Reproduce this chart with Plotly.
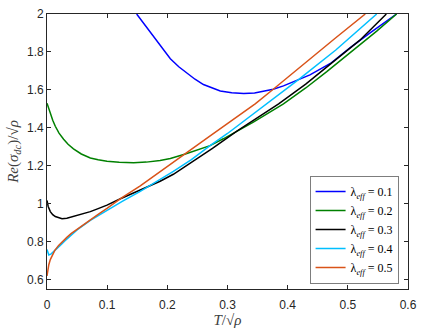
import plotly.graph_objects as go

# values
lam_names = ["0.1", "0.2", "0.3", "0.4", "0.5"]

t_01 = [0.149, 0.163, 0.177, 0.19, 0.205, 0.219, 0.233, 0.246, 0.26, 0.274, 0.288,
        0.307, 0.327, 0.345, 0.36, 0.376, 0.393, 0.41, 0.437, 0.471, 0.504, 0.537, 0.56, 0.581]
s_01 = [2.0, 1.94, 1.883, 1.823, 1.764, 1.722, 1.688, 1.656, 1.628, 1.609, 1.594,
        1.585, 1.581, 1.583, 1.591, 1.603, 1.621, 1.642, 1.679, 1.739, 1.823, 1.90, 1.95, 2.0]

t_02 = [0, 0.003, 0.0055, 0.0095, 0.0138, 0.02, 0.0276, 0.035, 0.044, 0.057, 0.072, 0.085,
        0.0997, 0.12, 0.144, 0.165, 0.188, 0.205, 0.23, 0.25, 0.271, 0.293, 0.316, 0.343,
        0.393, 0.43, 0.465, 0.5, 0.548, 0.581]
s_02 = [1.53, 1.50, 1.476, 1.44, 1.408, 1.372, 1.34, 1.313, 1.289, 1.262, 1.241, 1.231,
        1.224, 1.218, 1.216, 1.219, 1.228, 1.238, 1.262, 1.282, 1.306, 1.342, 1.382, 1.43,
        1.526, 1.61, 1.696, 1.785, 1.91, 2.0]

t_03 = [0, 0.002, 0.0055, 0.0095, 0.0138, 0.019, 0.025, 0.033, 0.044, 0.058, 0.072, 0.085,
        0.0997, 0.122, 0.155, 0.188, 0.21, 0.2435, 0.275, 0.3156, 0.35, 0.385, 0.43, 0.471,
        0.52, 0.564]
s_03 = [1.017, 0.985, 0.958, 0.942, 0.932, 0.925, 0.921, 0.923, 0.932, 0.945, 0.958, 0.974,
        0.992, 1.026, 1.07, 1.118, 1.155, 1.225, 1.292, 1.382, 1.455, 1.526, 1.63, 1.735,
        1.862, 2.0]

t_04 = [0, 0.003, 0.007, 0.011, 0.016, 0.022, 0.03, 0.04, 0.05, 0.072, 0.0997, 0.125,
        0.155, 0.188, 0.21, 0.24, 0.271, 0.3, 0.321, 0.365, 0.418, 0.48, 0.548]
s_04 = [0.758, 0.729, 0.735, 0.746, 0.762, 0.78, 0.804, 0.834, 0.862, 0.912, 0.966, 1.012,
        1.065, 1.128, 1.17, 1.232, 1.306, 1.37, 1.42, 1.526, 1.654, 1.81, 2.0]

t_05 = [0, 0.001, 0.003, 0.0055, 0.0083, 0.013, 0.0193, 0.026, 0.033, 0.04, 0.05, 0.06,
        0.072, 0.085, 0.0997, 0.124, 0.155, 0.188, 0.2297, 0.27, 0.301, 0.346, 0.374, 0.437,
        0.48, 0.529]
s_05 = [0.619, 0.645, 0.678, 0.705, 0.726, 0.754, 0.78, 0.802, 0.822, 0.842, 0.865, 0.889,
        0.915, 0.944, 0.975, 1.03, 1.094, 1.17, 1.263, 1.355, 1.425, 1.526, 1.598, 1.764,
        1.875, 2.0]

x_ticks = [0, 0.1, 0.2, 0.3, 0.4, 0.5, 0.6]
y_ticks = [0.6, 0.8, 1.0, 1.2, 1.4, 1.6, 1.8, 2.0]
y_tick_text = ["0.6", "0.8", "1", "1.2", "1.4", "1.6", "1.8", "2"]

colors = ["#0000ff", "#008000", "#000000", "#00bfff", "#d95319"]
curves = [(t_01, s_01), (t_02, s_02), (t_03, s_03), (t_04, s_04), (t_05, s_05)]

fig = go.Figure()
for (t, s), name, col in zip(curves, lam_names, colors):
    fig.add_trace(go.Scatter(
        x=t, y=s, mode="lines",
        line=dict(color=col, width=1.5),
        name="λ<sub><i>eff</i></sub> = " + name,
    ))

axis_style = dict(
    showgrid=False, zeroline=False, showline=True, mirror="ticks",
    linecolor="#262626", linewidth=0.8, ticks="inside", ticklen=4,
    tickcolor="#262626", tickwidth=0.8,
    tickfont=dict(family="Liberation Sans, Arial", size=12, color="#262626"),
)
title_font = dict(family="Liberation Serif", size=15, color="#404040")

fig.update_layout(
    width=425, height=333,
    margin=dict(l=47, r=17, t=7, b=41),
    paper_bgcolor="white", plot_bgcolor="white",
    xaxis=dict(range=[0, 0.6], tickvals=x_ticks, ticktext=[str(v) for v in x_ticks],
               ticklabelstandoff=5,
               title=dict(text="<i>T</i>/√<i>ρ</i>", standoff=3, font=title_font),
               **axis_style),
    yaxis=dict(range=[0.55, 2.0], tickvals=y_ticks, ticktext=y_tick_text,
               title=dict(text="<i>Re</i>(<i>σ<sub>dc</sub></i>)/√<i>ρ</i>", standoff=4,
                          font=title_font),
               **axis_style),
    legend=dict(x=0.975, y=0.02, xanchor="right", yanchor="bottom",
                bgcolor="white", bordercolor="#262626", borderwidth=0.6,
                font=dict(family="Liberation Serif", size=12, color="black"),
                itemwidth=30, tracegroupgap=0),
    showlegend=True,
)

fig.write_html("out.html", config={"displayModeBar": False},
               post_script="document.body.style.margin='0';")
